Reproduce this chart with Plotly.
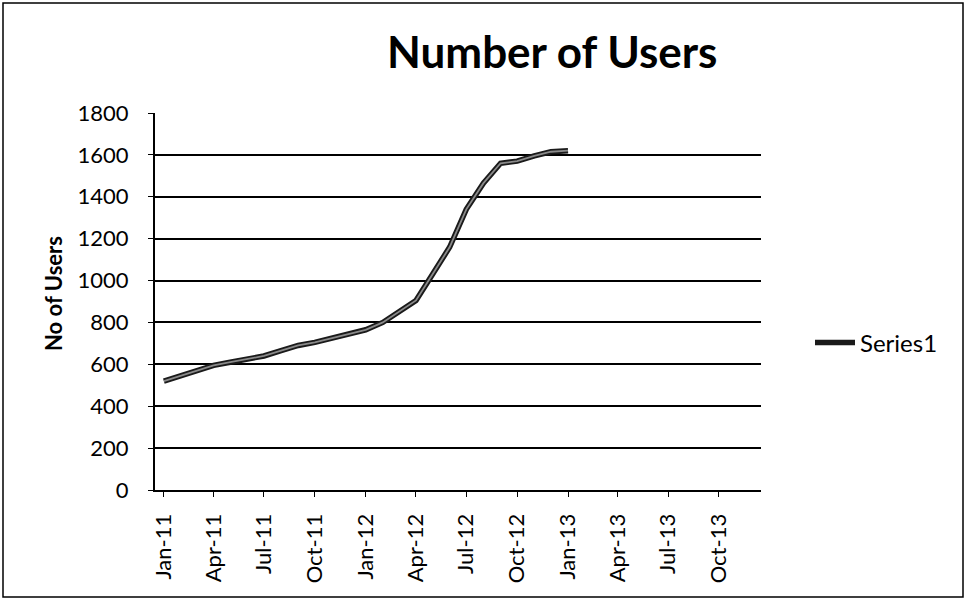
import plotly.graph_objects as go

months = ["2011-01-01", "2011-02-01", "2011-03-01", "2011-04-01", "2011-05-01", "2011-06-01",
          "2011-07-01", "2011-08-01", "2011-09-01", "2011-10-01", "2011-11-01", "2011-12-01",
          "2012-01-01", "2012-02-01", "2012-03-01", "2012-04-01", "2012-05-01", "2012-06-01",
          "2012-07-01", "2012-08-01", "2012-09-01", "2012-10-01", "2012-11-01", "2012-12-01",
          "2013-01-01"]
users = [520, 545, 570, 595, 610, 625, 640, 665, 690, 705, 725, 745,
         765, 800, 850, 905, 1030, 1160, 1340, 1465, 1560, 1570, 1595, 1615,
         1620]
series_name = "Series1"
title_text = "Number of Users"
y_title = "No of Users"
y_ticks = [0, 200, 400, 600, 800, 1000, 1200, 1400, 1600, 1800]

FONT = "Lato"

fig = go.Figure()
fig.add_trace(go.Scatter(x=months, y=users, mode="lines", name=series_name,
                         line=dict(color="#1a1a1a", width=5.5), showlegend=True,
                         legendgroup="s1"))
fig.add_trace(go.Scatter(x=months, y=users, mode="lines", name=series_name,
                         line=dict(color="#8a8a8a", width=1.8), showlegend=False,
                         legendgroup="s1", hoverinfo="skip"))

L, R, T, B = 155, 761, 113, 490
W, H = 967, 600

def px(x):
    return (x - L) / (R - L)

def py(y):
    return (B - y) / (B - T)

fig.update_layout(
    width=W, height=H,
    margin=dict(l=L, r=W - R, t=T, b=H - B),
    paper_bgcolor="white", plot_bgcolor="white",
    font=dict(family=FONT, color="black"),
    showlegend=True,
    legend=dict(x=px(810), y=py(343), xanchor="left", yanchor="middle",
                font=dict(family=FONT, size=24, color="black"),
                bgcolor="rgba(0,0,0,0)", itemwidth=40),
    xaxis=dict(type="date", range=["2010-12-16", "2013-12-16"],
               tick0="2011-01-01", dtick="M3", tickformat="%b-%y",
               tickangle=-90, tickfont=dict(family=FONT, size=22, color="black"),
               showgrid=False, showline=True, linecolor="black", linewidth=2,
               ticks="outside", ticklen=5, tickcolor="black",
               ticklabelstandoff=8,
               zeroline=False, fixedrange=True),
    yaxis=dict(range=[0, 1800], tickvals=y_ticks,
               tickfont=dict(family=FONT, size=22, color="black"),
               showgrid=True, gridcolor="black", gridwidth=2,
               showline=True, linecolor="black", linewidth=2,
               ticks="outside", ticklen=5, tickcolor="black",
               ticklabelstandoff=15, zeroline=False, fixedrange=True),
    annotations=[
        dict(text="<b>" + title_text + "</b>", x=px(552), y=py(51), xref="paper", yref="paper",
             showarrow=False, xanchor="center", yanchor="middle",
             font=dict(family=FONT, size=44, color="black")),
        dict(text="<b>" + y_title + "</b>", x=px(53), y=py(294), xref="paper", yref="paper",
             showarrow=False, xanchor="center", yanchor="middle", textangle=-90,
             font=dict(family=FONT, size=22, color="black")),
    ],
    shapes=[
        dict(type="rect", xref="paper", yref="paper",
             x0=px(3), x1=px(963), y0=py(597), y1=py(3),
             line=dict(color="black", width=1.5), fillcolor="rgba(0,0,0,0)", layer="below"),
    ],
)

fig.write_html("out.html")
